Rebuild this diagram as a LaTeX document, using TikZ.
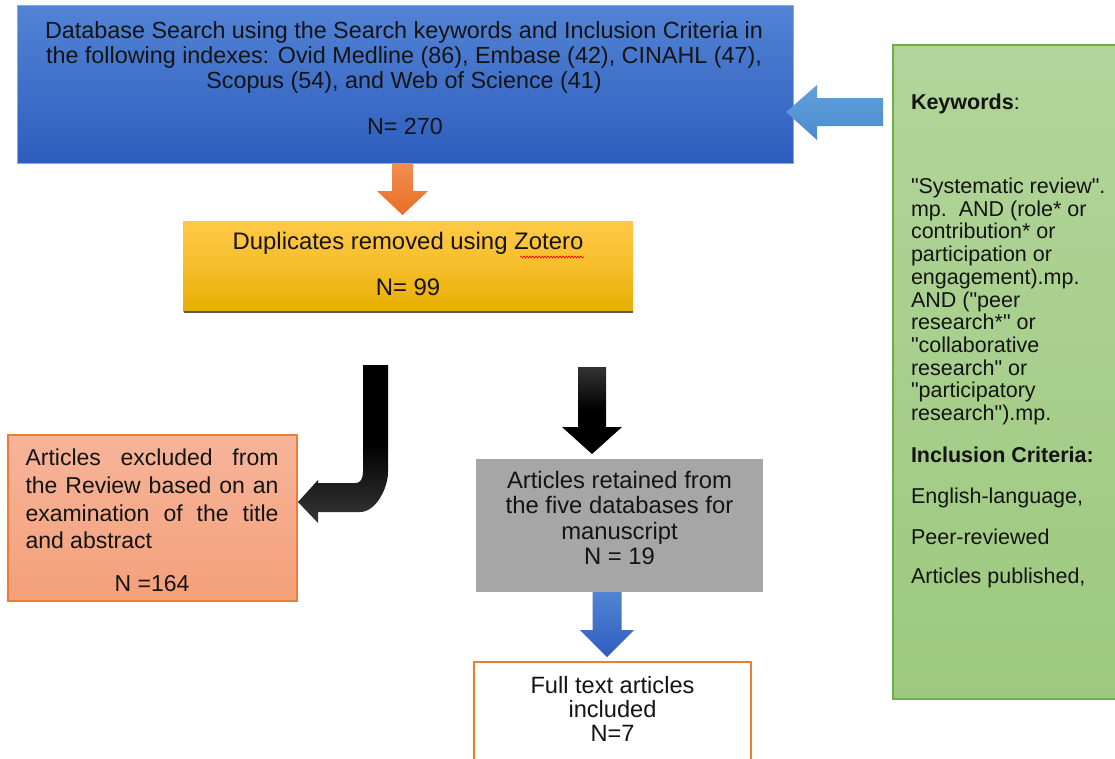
\documentclass[tikz,border=0pt]{standalone}
\usepackage{fontspec}
\setmainfont{Liberation Sans}
\newfontfamily\qfont[Ligatures=NoCommon]{Liberation Sans}
\usetikzlibrary{calc,decorations.pathmorphing}
\newcommand\sdq{{\qfont\char34}}
\definecolor{txt}{HTML}{141414}
\definecolor{bluetop}{HTML}{5283D4}
\definecolor{bluebot}{HTML}{2E5EBE}
\definecolor{yeltop}{HTML}{FFC947}
\definecolor{yelbot}{HTML}{E8AE00}
\definecolor{saltop}{HTML}{F6B49A}
\definecolor{salbot}{HTML}{F4A07A}
\definecolor{orline}{HTML}{ED7D31}
\definecolor{greytop}{HTML}{A6A6A6}
\definecolor{grntop}{HTML}{B2D59B}
\definecolor{grnbot}{HTML}{9DC97E}
\definecolor{grnline}{HTML}{70AD47}
\definecolor{oratop}{HTML}{F28E50}
\definecolor{orabot}{HTML}{E86E25}
\definecolor{ltbtop}{HTML}{62A0DA}
\definecolor{ltbbot}{HTML}{4A8CD0}
\tikzset{
  box/.style={rectangle, inner sep=0pt, outer sep=0pt},
  lbl/.style={text=txt, inner sep=0pt, outer sep=0pt},
  fs/.style={font=\fontsize{#1}{#1}\selectfont},
}
\begin{document}
\begin{tikzpicture}[x=1pt,y=-1pt]
\useasboundingbox (0,0) rectangle (1115,758);
% boxes
\node[box, minimum width=776, minimum height=158, top color=bluetop, bottom color=bluebot, draw=bluetop!70!white, line width=0.6pt] (blue) at (405,84) {};
\node[box, minimum width=450, minimum height=90, top color=yeltop, bottom color=yelbot, middle color=yeltop!60!yelbot] (yel) at (408,266) {};
\draw[line width=2.2pt, draw=black!65] (yel.south west) ++(1,1) -- ($(yel.south east)+(0,1)$);
\node[box, minimum width=289, minimum height=166, top color=saltop, bottom color=salbot, draw=orline, line width=1.2pt] (excl) at (152.5,518) {};
\node[box, minimum width=287, minimum height=133, fill=greytop] (grey) at (619.5,525.5) {};
\node[box, minimum width=277, minimum height=100, fill=white] (full) at (612.5,712) {};
\draw[orline, line width=1.2pt] (full.south west) -- (full.north west) -- (full.north east) -- (full.south east);
\node[box, minimum width=232, minimum height=654, top color=grntop, bottom color=grnbot] (grn) at (1009,372) {};
\draw[grnline, line width=1.2pt] (grn.north east) -- (grn.north west) -- (grn.south west) -- (grn.south east);

% texts
\node[lbl, align=center, font=\fontsize{23.35}{25}\selectfont] (t1) at (404,57)
 {Database Search using the Search keywords and Inclusion Criteria in\\
  the following indexes: Ovid Medline (86), Embase (42), CINAHL (47),\\
  Scopus (54), and Web of Science (41)};
\node[lbl, fs=23.35] (t1n) at (405,126) {N= 270};
\node[lbl, fs=23.9] (t2) at (408,243) {Duplicates removed using Zotero};
\node[lbl, fs=23.9] (t2n) at (408,287) {N= 99};
\draw[red, line width=0.6pt, decorate, decoration={snake, amplitude=1pt, segment length=3pt}] (520,257) -- (584,257);
\node[lbl, text width=253pt, align=justify, font=\fontsize{23}{27.7}\selectfont] (t3) at (152,499)
 {Articles excluded from\linebreak the Review based on an\linebreak examination of the title\linebreak and abstract};
\node[lbl, fs=23] (t3n) at (152,584) {N =164};
\node[lbl, align=center, font=\fontsize{23.8}{25.3}\selectfont] (t4) at (619.5,518)
 {Articles retained from\\ the five databases for\\ manuscript\\ N = 19};
\node[lbl, align=center, font=\fontsize{23.6}{24}\selectfont] (t5) at (612.5,709)
 {Full text articles\\ included\\ N=7};
\node[lbl, anchor=west, fs=21.5] (g1) at (911,104) {\textbf{Keywords}:};
\node[lbl, anchor=west, align=left, font=\fontsize{21.5}{22.7}\selectfont] (g2) at (911,301.5)
 {\sdq Systematic review\sdq.\\
  mp.\ \ AND (role* or\\
  contribution* or\\
  participation or\\
  engagement).mp.\\
  AND (\sdq peer\\
  research*\sdq\ or\\
  \sdq collaborative\\
  research\sdq\ or\\
  \sdq participatory\\
  research\sdq).mp.};
\node[lbl, anchor=west, fs=21.5] (g3) at (911,455) {\textbf{Inclusion Criteria:}};
\node[lbl, anchor=west, fs=21.5] (g4) at (911,498) {English-language,};
\node[lbl, anchor=west, fs=21.5] (g5) at (911,537) {Peer-reviewed};
\node[lbl, anchor=west, fs=21.5] (g6) at (911,578) {Articles published,};

% block arrows
% orange: blue -> yellow
\coordinate (oa) at ($(402.5,0 |- yel.north)+(0,-6)$);
\begin{scope}[shift={(oa)}]
\shade[top color=oratop, bottom color=orabot]
 (-10.5,-52) -- (10.5,-52) -- (10.5,-24) -- (25.5,-24) -- (0,0) -- (-25.5,-24) -- (-10.5,-24) -- cycle;
\end{scope}
% light blue: green -> blue
\coordinate (lb) at ($(blue.east)+(-7,28)$);
\begin{scope}[shift={(lb)}]
\shade[top color=ltbtop, bottom color=ltbbot]
 (0,0) -- (31,-27) -- (31,-14) -- (97,-14) -- (97,14) -- (31,14) -- (31,28) -- cycle;
\end{scope}
% black straight: -> grey
\coordinate (bs) at ($(592,0 |- grey.north)+(0,-5)$);
\begin{scope}[shift={(bs)}]
\shade[top color=black!80, bottom color=black, middle color=black]
 (-14,-87) -- (14,-87) -- (14,-27) -- (30,-27) -- (0,0) -- (-30,-27) -- (-14,-27) -- cycle;
\end{scope}
% black curved: -> excluded
\coordinate (bc) at ($(excl.east)+(1,-16)$);
\begin{scope}[shift={(bc)}]
\shade[top color=black, bottom color=black!78, middle color=black]
 (65,-137) -- (90,-137) -- (90,-30) .. controls (90,-14) and (78,10) .. (62,10)
 -- (20,10) -- (20,21) -- (0,0) -- (20,-22) -- (20,-19) -- (58,-19)
 .. controls (62,-19) and (65,-23) .. (65,-30) -- cycle;
\end{scope}
% blue small: grey -> full
\coordinate (bb) at ($(607,0 |- full.north)+(0,-5)$);
\begin{scope}[shift={(bb)}]
\shade[top color=bluetop, bottom color=bluebot]
 (-14.5,-65) -- (14.5,-65) -- (14.5,-27) -- (27,-27) -- (0,0) -- (-27,-27) -- (-14.5,-27) -- cycle;
\end{scope}
\end{tikzpicture}
\end{document}
